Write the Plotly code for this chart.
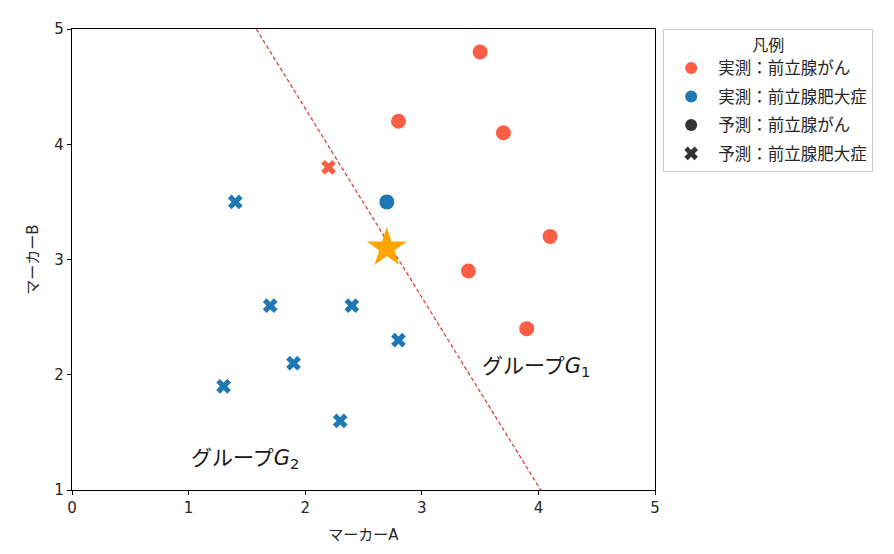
import plotly.graph_objects as go

# Data
cancer_x = [3.5, 2.8, 3.7, 4.1, 3.4, 3.9]
cancer_y = [4.8, 4.2, 4.1, 3.2, 2.9, 2.4]
bph_obs_x = [2.7]
bph_obs_y = [3.5]
pred_cancer_bph_x = [2.2]
pred_cancer_bph_y = [3.8]
bph_x = [1.4, 1.7, 2.4, 2.8, 1.9, 1.3, 2.3]
bph_y = [3.5, 2.6, 2.6, 2.3, 2.1, 1.9, 1.6]
new_x = [2.7]
new_y = [3.1]
boundary_x = [1.58, 4.02]
boundary_y = [5.0, 1.0]
x_ticks = [0, 1, 2, 3, 4, 5]
y_ticks = [1, 2, 3, 4, 5]
legend_labels = ["実測：前立腺がん", "実測：前立腺肥大症", "予測：前立腺がん", "予測：前立腺肥大症"]
group_labels = ["グループ<i>G</i><sub>1</sub>", "グループ<i>G</i><sub>2</sub>"]
group_x = [3.5, 1.0]
group_y = [2.07, 1.27]

RED = "#fc5e45"
BLUE = "#1f77b4"
DARK = "#333333"
FONT = "DejaVu Sans, Noto Sans CJK JP, sans-serif"

fig = go.Figure()

fig.add_trace(go.Scatter(x=boundary_x, y=boundary_y, mode="lines",
                         line=dict(color="#d9434a", width=1.3, dash="4px,2.5px"),
                         showlegend=False, hoverinfo="skip"))

fig.add_trace(go.Scatter(x=cancer_x, y=cancer_y, mode="markers",
                         marker=dict(symbol="circle", size=15, color=RED),
                         showlegend=False))
fig.add_trace(go.Scatter(x=bph_obs_x, y=bph_obs_y, mode="markers",
                         marker=dict(symbol="circle", size=15, color=BLUE),
                         showlegend=False))
fig.add_trace(go.Scatter(x=pred_cancer_bph_x, y=pred_cancer_bph_y, mode="markers",
                         marker=dict(symbol="x", size=13, color=RED, line=dict(width=0)),
                         showlegend=False))
fig.add_trace(go.Scatter(x=bph_x, y=bph_y, mode="markers",
                         marker=dict(symbol="x", size=13, color=BLUE, line=dict(width=0)),
                         showlegend=False))
fig.add_trace(go.Scatter(x=new_x, y=new_y, mode="markers",
                         marker=dict(symbol="star", size=30, color="orange", line=dict(width=0)),
                         showlegend=False))

# Legend entries
leg_styles = [("circle", RED), ("circle", BLUE), ("circle", DARK), ("x", DARK)]
for i, (label, (sym, col)) in enumerate(zip(legend_labels, leg_styles)):
    fig.add_trace(go.Scatter(x=[None], y=[None], mode="markers", name=label,
                             legendgroup="g%d" % i,
                             marker=dict(symbol=sym, size=15 if sym == "circle" else 13,
                                         color=col, line=dict(width=0))))

for txt, gx, gy in zip(group_labels, group_x, group_y):
    fig.add_annotation(x=gx, y=gy, text=txt, showarrow=False, xanchor="left", yanchor="middle",
                       font=dict(size=21, color="#1a1a1a", family=FONT))

fig.update_layout(
    width=886, height=546,
    margin=dict(l=64, r=239, t=18, b=64),
    paper_bgcolor="white", plot_bgcolor="white",
    font=dict(family=FONT, size=15, color="#262626"),
    legend=dict(x=1.014, y=1.0, xanchor="left", yanchor="top",
                bordercolor="#cccccc", borderwidth=1, bgcolor="white",
                title=dict(text="凡例", side="top center", font=dict(size=16)),
                font=dict(size=16.5), itemsizing="constant", itemwidth=44,
                tracegroupgap=4),
    xaxis=dict(range=[0, 5], tickvals=x_ticks, showgrid=False, zeroline=False,
               showline=True, linecolor="black", linewidth=1.2, mirror=True,
               ticks="outside", ticklen=4, tickcolor="black",
               tickfont=dict(size=15),
               title=dict(text="マーカーA", font=dict(size=15), standoff=13)),
    yaxis=dict(range=[1, 5], tickvals=y_ticks, showgrid=False, zeroline=False,
               showline=True, linecolor="black", linewidth=1.2, mirror=True,
               ticks="outside", ticklen=4, tickcolor="black",
               tickfont=dict(size=15),
               title=dict(text="マーカーB", font=dict(size=15), standoff=12)),
)

fig.write_html("out.html")
